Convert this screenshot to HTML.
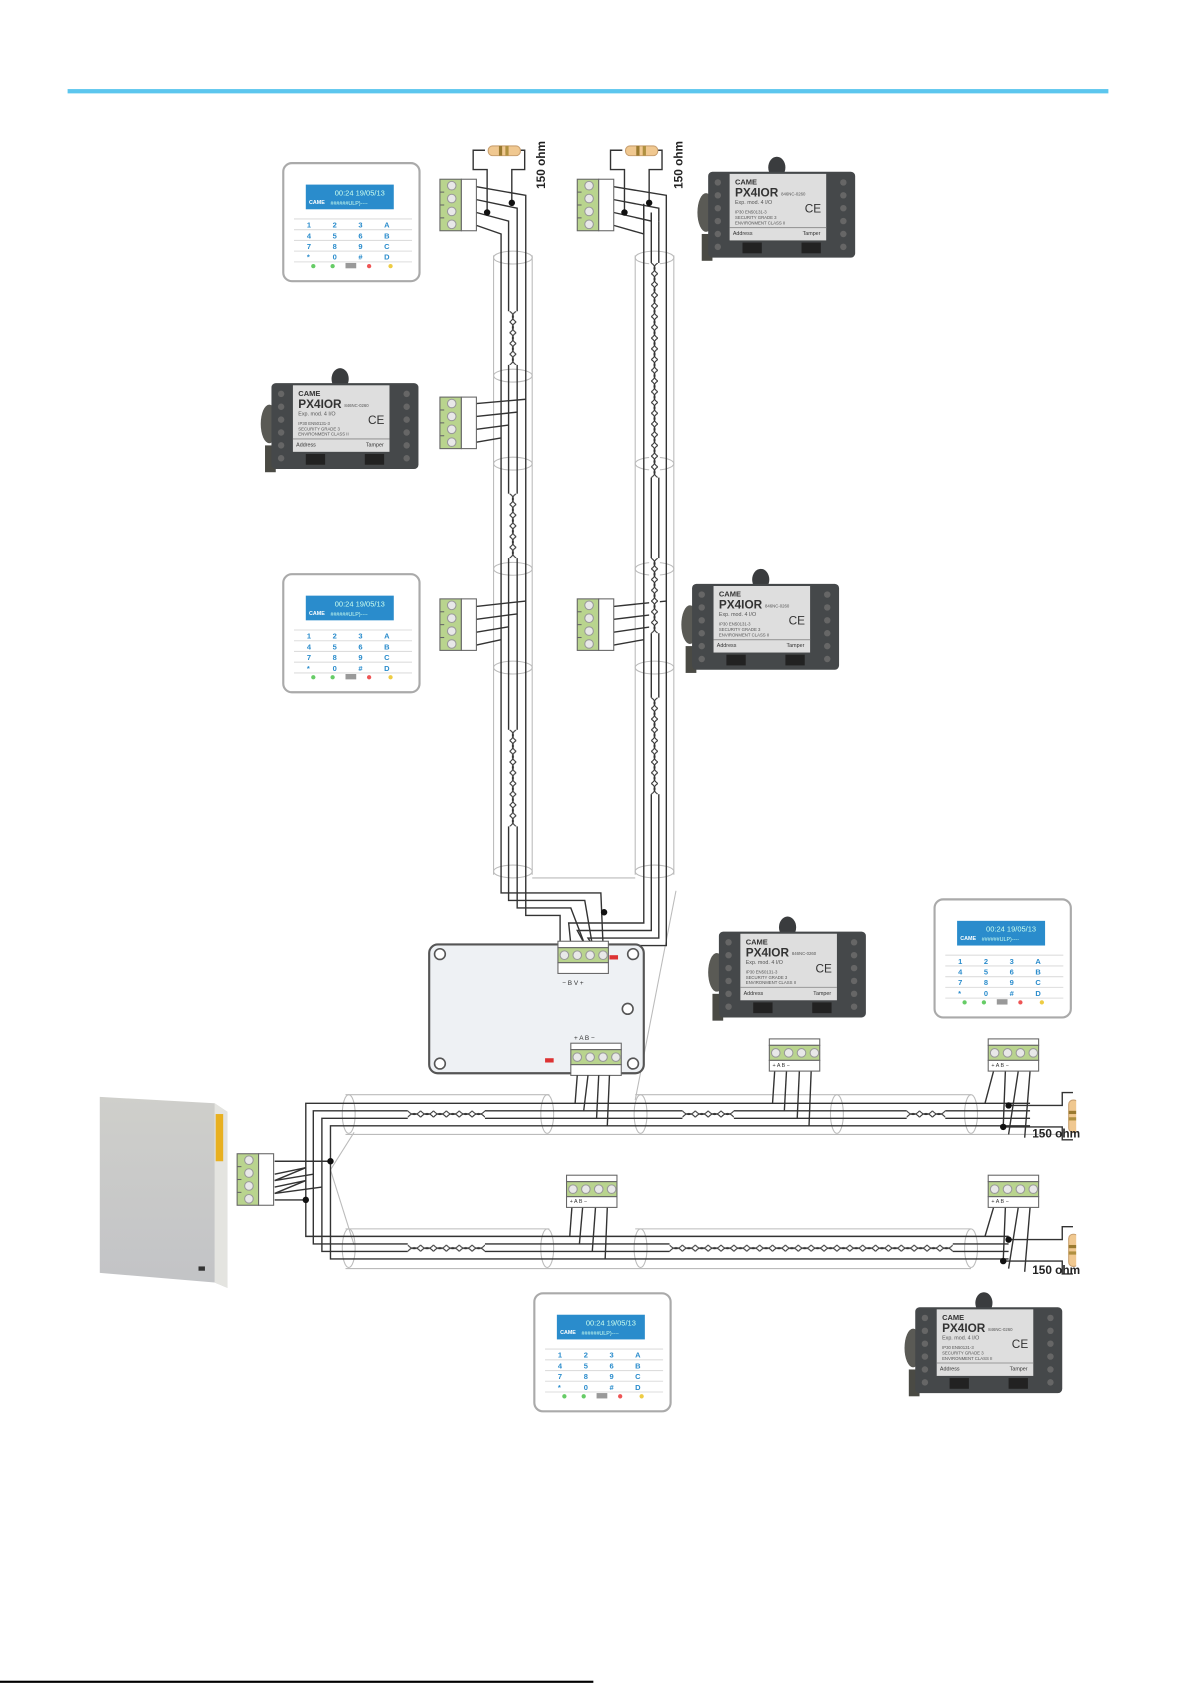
<!DOCTYPE html>
<html><head><meta charset="utf-8"><style>
html,body{margin:0;padding:0;background:#fff;width:1191px;height:1685px;overflow:hidden}
svg{display:block}
text{font-family:"Liberation Sans",sans-serif}
</style></head><body>
<svg width="1191" height="1685" viewBox="0 0 1110 1570" preserveAspectRatio="none" xmlns="http://www.w3.org/2000/svg">
<defs>
<pattern id="tv" width="10" height="10" patternUnits="userSpaceOnUse"><path d="M2,0 Q9,5 2,10 M8,0 Q1,5 8,10" fill="none" stroke="#333" stroke-width="1"/></pattern>
<pattern id="th" width="12" height="10" patternUnits="userSpaceOnUse"><path d="M0,2 Q6,9 12,2 M0,8 Q6,1 12,8" fill="none" stroke="#333" stroke-width="1"/></pattern>
<linearGradient id="box" x1="0" y1="0" x2="0" y2="1"><stop offset="0" stop-color="#cfcfcb"/><stop offset="1" stop-color="#c2c3c6"/></linearGradient>
<g id="kp">
<rect x="0" y="0" width="127" height="110" rx="8" fill="#fff" stroke="#aaa" stroke-width="2"/>
<rect x="21" y="20" width="82" height="23" fill="#2a8ccc"/>
<line x1="10" y1="52" x2="120" y2="52" stroke="#ddd"/><line x1="10" y1="62" x2="120" y2="62" stroke="#ddd"/>
<line x1="10" y1="72" x2="120" y2="72" stroke="#ddd"/><line x1="10" y1="82" x2="120" y2="82" stroke="#ddd"/>
<line x1="10" y1="92" x2="120" y2="92" stroke="#ddd"/>
<circle cx="28" cy="96" r="2" fill="#6c6"/><circle cx="46" cy="96" r="2" fill="#6c6"/>
<rect x="58" y="93" width="10" height="5" fill="#999"/><circle cx="80" cy="96" r="2" fill="#e55"/><circle cx="100" cy="96" r="2" fill="#ec4"/>
</g>
<g id="md">
<ellipse cx="72" cy="8" rx="8" ry="10" fill="#3a3c3e"/>
<ellipse cx="6" cy="50" rx="8" ry="18" fill="#5a5a55"/>
<rect x="2" y="70" width="10" height="25" fill="#4a4a44"/>
<rect x="8" y="12" width="137" height="80" rx="4" fill="#45484a"/>
<rect x="28" y="14" width="90" height="62" fill="#dedede"/>
<line x1="28" y1="64" x2="118" y2="64" stroke="#999"/>
<rect x="40" y="78" width="18" height="10" fill="#222"/><rect x="95" y="78" width="18" height="10" fill="#222"/>
<g fill="#666"><circle cx="17" cy="22" r="3"/><circle cx="17" cy="34" r="3"/><circle cx="17" cy="46" r="3"/><circle cx="17" cy="58" r="3"/><circle cx="17" cy="70" r="3"/><circle cx="17" cy="82" r="3"/>
<circle cx="134" cy="22" r="3"/><circle cx="134" cy="34" r="3"/><circle cx="134" cy="46" r="3"/><circle cx="134" cy="58" r="3"/><circle cx="134" cy="70" r="3"/><circle cx="134" cy="82" r="3"/></g>
</g>
<g id="tvt">
<rect x="0" y="0" width="20" height="48" fill="#b9d48e" stroke="#666"/>
<rect x="20" y="0" width="14" height="48" fill="#fff" stroke="#666"/>
<g fill="#e8e8e8" stroke="#999"><circle cx="11" cy="6" r="4"/><circle cx="11" cy="18" r="4"/><circle cx="11" cy="30" r="4"/><circle cx="11" cy="42" r="4"/></g>
<line x1="0" y1="12" x2="4" y2="12" stroke="#666"/><line x1="0" y1="24" x2="4" y2="24" stroke="#666"/><line x1="0" y1="36" x2="4" y2="36" stroke="#666"/>
</g>
<g id="tht">
<rect x="0" y="0" width="47" height="6" fill="#fff" stroke="#666"/>
<rect x="0" y="6" width="47" height="14" fill="#b9d48e" stroke="#666"/>
<rect x="0" y="20" width="47" height="10" fill="#fff" stroke="#666"/>
<g fill="#e8e8e8" stroke="#999"><circle cx="6" cy="13" r="4"/><circle cx="18" cy="13" r="4"/><circle cx="30" cy="13" r="4"/><circle cx="42" cy="13" r="4"/></g>
</g>
<g id="resh"><rect x="0" y="-4" width="30" height="9" rx="4" fill="#f0c890" stroke="#c9a070"/><rect x="10" y="-4" width="3" height="9" fill="#9a7a30"/><rect x="16" y="-4" width="3" height="9" fill="#b09040"/></g>
<g id="resv"><rect x="-4" y="0" width="9" height="30" rx="4" fill="#f0c890" stroke="#c9a070"/><rect x="-4" y="10" width="9" height="3" fill="#9a7a30"/><rect x="-4" y="16" width="9" height="3" fill="#b09040"/></g>
<g id="keys" font-size="7" fill="#2a8ccc" font-weight="bold">
<text y="60"><tspan x="22">1</tspan><tspan x="46">2</tspan><tspan x="70">3</tspan><tspan x="94">A</tspan></text>
<text y="70"><tspan x="22">4</tspan><tspan x="46">5</tspan><tspan x="70">6</tspan><tspan x="94">B</tspan></text>
<text y="80"><tspan x="22">7</tspan><tspan x="46">8</tspan><tspan x="70">9</tspan><tspan x="94">C</tspan></text>
<text y="90"><tspan x="22">*</tspan><tspan x="46">0</tspan><tspan x="70">#</tspan><tspan x="94">D</tspan></text>
</g>
</defs>

<rect x="63" y="83" width="970" height="4" fill="#5cc6ee"/>
<rect x="0" y="1566" width="553" height="2" fill="#000"/>

<g fill="none" stroke="#bbb" stroke-width="1">
<line x1="460" y1="238" x2="460" y2="815"/><line x1="496" y1="238" x2="496" y2="815"/>
<line x1="592" y1="238" x2="592" y2="815"/><line x1="628" y1="238" x2="628" y2="815"/>
<ellipse cx="478" cy="240" rx="18" ry="6"/><ellipse cx="478" cy="350" rx="18" ry="6"/><ellipse cx="478" cy="432" rx="18" ry="6"/><ellipse cx="478" cy="622" rx="18" ry="6"/><ellipse cx="478" cy="812" rx="18" ry="6"/><ellipse cx="478" cy="530" rx="18" ry="6"/>
<ellipse cx="610" cy="240" rx="18" ry="6"/><ellipse cx="610" cy="432" rx="18" ry="6"/><ellipse cx="610" cy="622" rx="18" ry="6"/><ellipse cx="610" cy="812" rx="18" ry="6"/><ellipse cx="610" cy="530" rx="18" ry="6"/>
<line x1="496" y1="818" x2="592" y2="818"/>
<line x1="630" y1="830" x2="592" y2="1025"/>
</g>

<g fill="none" stroke="#333" stroke-width="1.3">
<polyline points="444,174 490,182 490,853 522,853 522,880"/>
<polyline points="444,186 482,194 482,846 532,846 545,880"/>
<polyline points="444,198 474,206 474,839 545,839 552,880"/>
<polyline points="444,210 467,218 467,832 560,832 562,880"/>
<polyline points="600,190 600,860 530,860 532,880"/>
<polyline points="607,198 607,867 538,867 545,880"/>
<polyline points="614,206 614,874 548,874 552,880"/>
<polyline points="621,218 621,881 558,881"/>
<polyline points="572,174 621,182 621,218"/><polyline points="572,186 614,194 614,206"/><polyline points="572,198 607,206 607,198"/><polyline points="572,210 600,218 600,190"/>
<polyline points="444,376 490,372"/><polyline points="444,388 482,384"/><polyline points="444,400 474,396"/><polyline points="444,412 467,408"/>
<polyline points="444,565 490,560"/><polyline points="444,577 482,572"/><polyline points="444,589 474,584"/><polyline points="444,601 467,596"/>
<polyline points="572,565 621,560"/><polyline points="572,577 614,572"/><polyline points="572,589 607,584"/><polyline points="572,601 600,596"/>
<polyline points="452,140 441,140 441,158 454,158 454,198"/><polyline points="485,140 489,140 489,158 477,158 477,189"/>
<polyline points="580,140 569,140 569,158 582,158 582,198"/><polyline points="613,140 617,140 617,158 605,158 605,189"/>
</g>
<g fill="#111"><circle cx="454" cy="198" r="3"/><circle cx="477" cy="189" r="3"/><circle cx="582" cy="198" r="3"/><circle cx="605" cy="189" r="3"/><circle cx="563" cy="850" r="3"/></g>
<g transform="translate(473,290)"><rect width="10" height="50" fill="#fff"/><rect width="10" height="50" fill="url(#tv)"/></g>
<g transform="translate(473,460)"><rect width="10" height="60" fill="#fff"/><rect width="10" height="60" fill="url(#tv)"/></g>
<g transform="translate(473,680)"><rect width="10" height="90" fill="#fff"/><rect width="10" height="90" fill="url(#tv)"/></g>
<g transform="translate(605,245)"><rect width="10" height="200" fill="#fff"/><rect width="10" height="200" fill="url(#tv)"/></g>
<g transform="translate(605,520)"><rect width="10" height="70" fill="#fff"/><rect width="10" height="70" fill="url(#tv)"/></g>
<g transform="translate(605,650)"><rect width="10" height="90" fill="#fff"/><rect width="10" height="90" fill="url(#tv)"/></g>
<use href="#resh" x="455" y="140"/><use href="#resh" x="583" y="140"/>
<text transform="translate(508,176) rotate(-90)" font-size="11" font-weight="bold" fill="#222">150 ohm</text>
<text transform="translate(636,176) rotate(-90)" font-size="11" font-weight="bold" fill="#222">150 ohm</text>

<use href="#tvt" x="410" y="167"/><use href="#tvt" x="538" y="167"/><use href="#tvt" x="410" y="370"/>
<use href="#tvt" x="410" y="558"/><use href="#tvt" x="538" y="558"/><use href="#tvt" x="221" y="1075"/>

<rect x="400" y="880" width="200" height="120" rx="8" fill="#eef1f4" stroke="#555" stroke-width="2"/>
<g fill="#fff" stroke="#555" stroke-width="1.5"><circle cx="410" cy="889" r="5"/><circle cx="590" cy="889" r="5"/><circle cx="410" cy="991" r="5"/><circle cx="590" cy="991" r="5"/><circle cx="585" cy="940" r="5"/></g>
<rect x="568" y="890" width="8" height="4" fill="#d33"/><rect x="508" y="986" width="8" height="4" fill="#d33"/>
<use href="#tht" x="520" y="877"/><use href="#tht" x="532" y="972"/>
<text x="524" y="918" font-size="6" fill="#333">−  B  V  +</text>
<text x="535" y="969" font-size="6" fill="#333">+  A  B  −</text>

<polygon points="93,1022 200,1028 212,1036 212,1200 200,1195 93,1186" fill="url(#box)"/>
<polygon points="200,1028 212,1036 212,1200 200,1195" fill="#e4e4e0"/>
<rect x="201" y="1038" width="7" height="44" fill="#e8b020"/>
<rect x="185" y="1180" width="6" height="4" fill="#333"/>

<g fill="none" stroke="#bbb">
<line x1="322" y1="1020" x2="512" y2="1020"/><line x1="322" y1="1057" x2="990" y2="1057"/>
<line x1="592" y1="1020" x2="905" y2="1020"/>
<ellipse cx="325" cy="1038" rx="6" ry="18"/><ellipse cx="510" cy="1038" rx="6" ry="18"/><ellipse cx="597" cy="1038" rx="6" ry="18"/><ellipse cx="780" cy="1038" rx="6" ry="18"/><ellipse cx="905" cy="1038" rx="6" ry="18"/>
<line x1="322" y1="1145" x2="512" y2="1145"/><line x1="592" y1="1145" x2="905" y2="1145"/><line x1="322" y1="1182" x2="905" y2="1182"/>
<ellipse cx="325" cy="1163" rx="6" ry="18"/><ellipse cx="510" cy="1163" rx="6" ry="18"/><ellipse cx="597" cy="1163" rx="6" ry="18"/><ellipse cx="905" cy="1163" rx="6" ry="18"/>
<line x1="330" y1="1055" x2="308" y2="1090"/><line x1="308" y1="1090" x2="330" y2="1160"/>
</g>
<g fill="none" stroke="#333" stroke-width="1.3">
<polyline points="256,1082 308,1082"/><polyline points="256,1094 285,1088 256,1100 292,1094"/><polyline points="256,1106 285,1100 256,1112 300,1106"/><polyline points="256,1118 285,1118"/>
<polyline points="960,1028 285,1028 285,1152 940,1152"/>
<polyline points="960,1035 292,1035 292,1159 940,1159"/>
<polyline points="960,1042 300,1042 300,1166 940,1166"/>
<polyline points="960,1049 308,1049 308,1173 940,1173"/>
<polyline points="538,1002 536,1028"/><polyline points="548,1002 544,1035"/><polyline points="558,1002 556,1042"/><polyline points="568,1002 566,1049"/>
<polyline points="722,998 720,1028"/><polyline points="733,998 731,1035"/><polyline points="745,998 743,1042"/><polyline points="756,998 754,1049"/>
<polyline points="926,998 918,1028"/><polyline points="937,998 935,1050"/><polyline points="949,998 940,1057"/><polyline points="960,998 955,1060"/>
<polyline points="533,1125 531,1152"/><polyline points="543,1125 540,1159"/><polyline points="555,1125 552,1166"/><polyline points="566,1125 564,1173"/>
<polyline points="926,1125 918,1152"/><polyline points="937,1125 935,1175"/><polyline points="949,1125 940,1182"/><polyline points="960,1125 955,1185"/>
<polyline points="935,1050 990,1050 990,1062 1000,1062"/><polyline points="940,1030 990,1030 990,1018 1000,1018"/>
<polyline points="935,1175 990,1175 990,1187 1000,1187"/><polyline points="940,1155 990,1155 990,1143 1000,1143"/>
</g>
<g fill="#111"><circle cx="308" cy="1082" r="3"/><circle cx="285" cy="1118" r="3"/><circle cx="940" cy="1030" r="3"/><circle cx="935" cy="1050" r="3"/><circle cx="940" cy="1155" r="3"/><circle cx="935" cy="1175" r="3"/></g>
<g transform="translate(380,1033)"><rect width="72" height="10" fill="#fff"/><rect width="72" height="10" fill="url(#th)"/></g>
<g transform="translate(636,1033)"><rect width="48" height="10" fill="#fff"/><rect width="48" height="10" fill="url(#th)"/></g>
<g transform="translate(845,1033)"><rect width="36" height="10" fill="#fff"/><rect width="36" height="10" fill="url(#th)"/></g>
<g transform="translate(380,1158)"><rect width="72" height="10" fill="#fff"/><rect width="72" height="10" fill="url(#th)"/></g>
<g transform="translate(624,1158)"><rect width="264" height="10" fill="#fff"/><rect width="264" height="10" fill="url(#th)"/></g>
<use href="#resv" x="1000" y="1025"/><use href="#resv" x="1000" y="1150"/>
<rect x="1003" y="1000" width="20" height="200" fill="#fff"/>
<text x="962" y="1060" font-size="11" font-weight="bold" fill="#222">150 ohm</text>
<text x="962" y="1187" font-size="11" font-weight="bold" fill="#222">150 ohm</text>
<use href="#tht" x="717" y="968"/><use href="#tht" x="921" y="968"/><use href="#tht" x="528" y="1095"/><use href="#tht" x="921" y="1095"/>
<g font-size="5" fill="#333"><text x="720" y="994">+ A B −</text><text x="924" y="994">+ A B −</text><text x="531" y="1121">+ A B −</text><text x="924" y="1121">+ A B −</text></g>

<g transform="translate(264,152)"><use href="#kp"/><use href="#keys"/><text x="48" y="30" font-size="7" fill="#cfe">00:24  19/05/13</text><text x="24" y="38" font-size="5" font-weight="bold" fill="#fff">CAME</text><text x="44" y="39" font-size="5" fill="#cfe">######ULP)----</text></g>
<g transform="translate(264,535)"><use href="#kp"/><use href="#keys"/><text x="48" y="30" font-size="7" fill="#cfe">00:24  19/05/13</text><text x="24" y="38" font-size="5" font-weight="bold" fill="#fff">CAME</text><text x="44" y="39" font-size="5" fill="#cfe">######ULP)----</text></g>
<g transform="translate(871,838)"><use href="#kp"/><use href="#keys"/><text x="48" y="30" font-size="7" fill="#cfe">00:24  19/05/13</text><text x="24" y="38" font-size="5" font-weight="bold" fill="#fff">CAME</text><text x="44" y="39" font-size="5" fill="#cfe">######ULP)----</text></g>
<g transform="translate(498,1205)"><use href="#kp"/><use href="#keys"/><text x="48" y="30" font-size="7" fill="#cfe">00:24  19/05/13</text><text x="24" y="38" font-size="5" font-weight="bold" fill="#fff">CAME</text><text x="44" y="39" font-size="5" fill="#cfe">######ULP)----</text></g>

<g transform="translate(652,148)"><use href="#md"/><text x="33" y="24" font-size="7" font-weight="bold" fill="#333">CAME</text><text x="33" y="35" font-size="11" font-weight="bold" fill="#333">PX4IOR</text><text x="76" y="34" font-size="4" fill="#555">846NC-0260</text><text x="33" y="42" font-size="5" fill="#555">Exp. mod. 4 I/O</text><g font-size="4" fill="#555"><text x="33" y="51">IP30 EN50131-3</text><text x="33" y="56">SECURITY GRADE 3</text><text x="33" y="61">ENVIRONMENT CLASS II</text></g><text x="98" y="50" font-size="11" fill="#333">CE</text><text x="31" y="71" font-size="5" fill="#333">Address</text><text x="96" y="71" font-size="5" fill="#333">Tamper</text></g>
<g transform="translate(245,345)"><use href="#md"/><text x="33" y="24" font-size="7" font-weight="bold" fill="#333">CAME</text><text x="33" y="35" font-size="11" font-weight="bold" fill="#333">PX4IOR</text><text x="76" y="34" font-size="4" fill="#555">846NC-0260</text><text x="33" y="42" font-size="5" fill="#555">Exp. mod. 4 I/O</text><g font-size="4" fill="#555"><text x="33" y="51">IP30 EN50131-3</text><text x="33" y="56">SECURITY GRADE 3</text><text x="33" y="61">ENVIRONMENT CLASS II</text></g><text x="98" y="50" font-size="11" fill="#333">CE</text><text x="31" y="71" font-size="5" fill="#333">Address</text><text x="96" y="71" font-size="5" fill="#333">Tamper</text></g>
<g transform="translate(637,532)"><use href="#md"/><text x="33" y="24" font-size="7" font-weight="bold" fill="#333">CAME</text><text x="33" y="35" font-size="11" font-weight="bold" fill="#333">PX4IOR</text><text x="76" y="34" font-size="4" fill="#555">846NC-0260</text><text x="33" y="42" font-size="5" fill="#555">Exp. mod. 4 I/O</text><g font-size="4" fill="#555"><text x="33" y="51">IP30 EN50131-3</text><text x="33" y="56">SECURITY GRADE 3</text><text x="33" y="61">ENVIRONMENT CLASS II</text></g><text x="98" y="50" font-size="11" fill="#333">CE</text><text x="31" y="71" font-size="5" fill="#333">Address</text><text x="96" y="71" font-size="5" fill="#333">Tamper</text></g>
<g transform="translate(662,856)"><use href="#md"/><text x="33" y="24" font-size="7" font-weight="bold" fill="#333">CAME</text><text x="33" y="35" font-size="11" font-weight="bold" fill="#333">PX4IOR</text><text x="76" y="34" font-size="4" fill="#555">846NC-0260</text><text x="33" y="42" font-size="5" fill="#555">Exp. mod. 4 I/O</text><g font-size="4" fill="#555"><text x="33" y="51">IP30 EN50131-3</text><text x="33" y="56">SECURITY GRADE 3</text><text x="33" y="61">ENVIRONMENT CLASS II</text></g><text x="98" y="50" font-size="11" fill="#333">CE</text><text x="31" y="71" font-size="5" fill="#333">Address</text><text x="96" y="71" font-size="5" fill="#333">Tamper</text></g>
<g transform="translate(845,1206)"><use href="#md"/><text x="33" y="24" font-size="7" font-weight="bold" fill="#333">CAME</text><text x="33" y="35" font-size="11" font-weight="bold" fill="#333">PX4IOR</text><text x="76" y="34" font-size="4" fill="#555">846NC-0260</text><text x="33" y="42" font-size="5" fill="#555">Exp. mod. 4 I/O</text><g font-size="4" fill="#555"><text x="33" y="51">IP30 EN50131-3</text><text x="33" y="56">SECURITY GRADE 3</text><text x="33" y="61">ENVIRONMENT CLASS II</text></g><text x="98" y="50" font-size="11" fill="#333">CE</text><text x="31" y="71" font-size="5" fill="#333">Address</text><text x="96" y="71" font-size="5" fill="#333">Tamper</text></g>
</svg>
</body></html>
